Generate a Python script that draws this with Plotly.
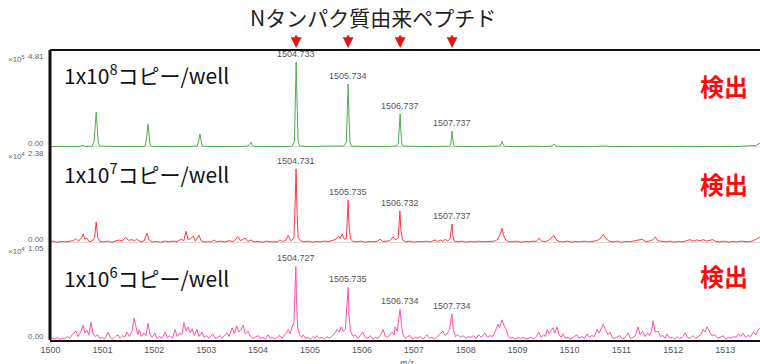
import plotly.graph_objects as go

# ---------------- data ----------------
x_ticks = [1500, 1501, 1502, 1503, 1504, 1505, 1506, 1507, 1508, 1509, 1510, 1511, 1512, 1513]
x_ticktext = [str(v) for v in x_ticks]

panel_titles = ["1x10<sup>8</sup>コピー/well", "1x10<sup>7</sup>コピー/well", "1x10<sup>6</sup>コピー/well"]
panel_max = [4.81, 2.38, 1.05]
panel_max_text = ["4.81", "2.38", "1.05"]
panel_zero_text = ["0.00", "0.00", "0.00"]
panel_exp = ["×10<sup>5</sup>", "×10<sup>4</sup>", "×10<sup>4</sup>"]

arrow_mz = [1504.733, 1505.734, 1506.737, 1507.737]

label1_mz = [1504.733, 1505.734, 1506.737, 1507.737]
label1_int = [4.30, 3.19, 1.67, 0.81]
label1_txt = ["1504.733", "1505.734", "1506.737", "1507.737"]
label2_mz = [1504.731, 1505.735, 1506.732, 1507.737]
label2_int = [1.96, 1.14, 0.85, 0.50]
label2_txt = ["1504.731", "1505.735", "1506.732", "1507.737"]
label3_mz = [1504.727, 1505.735, 1506.734, 1507.734]
label3_int = [0.84, 0.60, 0.35, 0.30]
label3_txt = ["1504.727", "1505.735", "1506.734", "1507.734"]

# spectrum 1 (x10^5)
green_pts = [
    (1499.99, 0.03), (1500.10, 0.02), (1500.25, 0.04), (1500.40, 0.02), (1500.55, 0.03), (1500.60, 0.06),
    (1500.63, 0.08), (1500.67, 0.03), (1500.80, 0.04), (1500.84, 0.30), (1500.86, 1.20), (1500.88, 1.77),
    (1500.90, 1.00), (1500.92, 0.20), (1500.95, 0.04), (1501.10, 0.03), (1501.25, 0.02), (1501.40, 0.04),
    (1501.55, 0.02), (1501.70, 0.03), (1501.82, 0.04), (1501.85, 0.40), (1501.87, 0.95), (1501.88, 1.16),
    (1501.90, 0.60), (1501.92, 0.10), (1501.95, 0.03), (1502.10, 0.02), (1502.25, 0.04), (1502.40, 0.02),
    (1502.55, 0.03), (1502.70, 0.02), (1502.82, 0.04), (1502.85, 0.25), (1502.87, 0.55), (1502.88, 0.66),
    (1502.90, 0.35), (1502.92, 0.06), (1502.95, 0.03), (1503.10, 0.02), (1503.25, 0.04), (1503.40, 0.03),
    (1503.55, 0.02), (1503.70, 0.03), (1503.80, 0.05), (1503.84, 0.15), (1503.86, 0.25), (1503.88, 0.12),
    (1503.92, 0.03), (1504.10, 0.02), (1504.25, 0.03), (1504.40, 0.02), (1504.55, 0.04), (1504.65, 0.03),
    (1504.70, 0.30), (1504.72, 2.80), (1504.733, 4.30), (1504.75, 2.20), (1504.77, 0.30), (1504.80, 0.05),
    (1504.95, 0.03), (1505.10, 0.02), (1505.25, 0.04), (1505.40, 0.03), (1505.55, 0.03), (1505.65, 0.05),
    (1505.70, 0.25), (1505.72, 2.10), (1505.734, 3.19), (1505.75, 1.60), (1505.77, 0.25), (1505.80, 0.04),
    (1505.95, 0.03), (1506.10, 0.02), (1506.25, 0.04), (1506.40, 0.02), (1506.55, 0.03), (1506.66, 0.05),
    (1506.70, 0.15), (1506.72, 1.10), (1506.737, 1.67), (1506.75, 0.80), (1506.77, 0.15), (1506.80, 0.04),
    (1506.95, 0.03), (1507.10, 0.02), (1507.25, 0.03), (1507.40, 0.02), (1507.55, 0.04), (1507.67, 0.03),
    (1507.71, 0.10), (1507.725, 0.55), (1507.737, 0.81), (1507.75, 0.40), (1507.77, 0.08), (1507.80, 0.03),
    (1507.95, 0.02), (1508.10, 0.04), (1508.25, 0.02), (1508.40, 0.03), (1508.55, 0.03), (1508.65, 0.05),
    (1508.69, 0.20), (1508.70, 0.30), (1508.72, 0.12), (1508.76, 0.03), (1508.90, 0.02), (1509.05, 0.03),
    (1509.20, 0.02), (1509.35, 0.04), (1509.50, 0.02), (1509.65, 0.04), (1509.70, 0.15), (1509.74, 0.04),
    (1509.90, 0.03), (1510.05, 0.02), (1510.20, 0.04), (1510.35, 0.02), (1510.50, 0.03), (1510.65, 0.05),
    (1510.80, 0.03), (1510.95, 0.02), (1511.10, 0.04), (1511.25, 0.02), (1511.40, 0.03), (1511.55, 0.04),
    (1511.70, 0.02), (1511.85, 0.03), (1512.00, 0.02), (1512.15, 0.04), (1512.30, 0.02), (1512.45, 0.03),
    (1512.60, 0.04), (1512.75, 0.03), (1512.90, 0.02), (1513.05, 0.04), (1513.20, 0.02), (1513.35, 0.03),
    (1513.50, 0.04), (1513.60, 0.08), (1513.67, 0.20),
]

# spectrum 2 (x10^4)
red_pts = [
    (1499.99, 0.03), (1500.05, 0.05), (1500.12, 0.02), (1500.20, 0.04), (1500.28, 0.03), (1500.36, 0.05),
    (1500.44, 0.06), (1500.49, 0.12), (1500.54, 0.05), (1500.60, 0.15), (1500.63, 0.24), (1500.66, 0.10),
    (1500.70, 0.13), (1500.74, 0.04), (1500.80, 0.05), (1500.85, 0.15), (1500.88, 0.56), (1500.91, 0.14),
    (1500.95, 0.04), (1501.02, 0.03), (1501.10, 0.05), (1501.18, 0.02), (1501.26, 0.06), (1501.32, 0.08),
    (1501.38, 0.05), (1501.45, 0.15), (1501.50, 0.07), (1501.56, 0.09), (1501.62, 0.06), (1501.66, 0.10),
    (1501.72, 0.04), (1501.80, 0.05), (1501.86, 0.26), (1501.90, 0.08), (1501.96, 0.03), (1502.04, 0.04),
    (1502.12, 0.02), (1502.20, 0.05), (1502.28, 0.03), (1502.36, 0.05), (1502.44, 0.04), (1502.52, 0.10),
    (1502.57, 0.06), (1502.61, 0.31), (1502.65, 0.09), (1502.70, 0.12), (1502.75, 0.18), (1502.79, 0.05),
    (1502.86, 0.21), (1502.90, 0.06), (1502.96, 0.03), (1503.04, 0.04), (1503.10, 0.03), (1503.15, 0.08),
    (1503.20, 0.03), (1503.28, 0.05), (1503.36, 0.03), (1503.44, 0.06), (1503.52, 0.04), (1503.57, 0.10),
    (1503.61, 0.17), (1503.66, 0.06), (1503.71, 0.09), (1503.75, 0.13), (1503.80, 0.04), (1503.86, 0.08),
    (1503.92, 0.03), (1504.00, 0.04), (1504.08, 0.02), (1504.16, 0.05), (1504.24, 0.03), (1504.32, 0.04),
    (1504.38, 0.03), (1504.42, 0.08), (1504.47, 0.04), (1504.53, 0.07), (1504.58, 0.20), (1504.63, 0.06),
    (1504.69, 0.12), (1504.71, 0.90), (1504.731, 1.96), (1504.75, 0.80), (1504.77, 0.15), (1504.82, 0.06),
    (1504.88, 0.03), (1504.96, 0.05), (1505.04, 0.02), (1505.12, 0.04), (1505.20, 0.03), (1505.28, 0.05),
    (1505.36, 0.04), (1505.44, 0.07), (1505.50, 0.10), (1505.55, 0.18), (1505.58, 0.12), (1505.62, 0.24),
    (1505.66, 0.10), (1505.70, 0.12), (1505.72, 0.60), (1505.735, 1.14), (1505.75, 0.50), (1505.78, 0.10),
    (1505.83, 0.04), (1505.90, 0.03), (1505.98, 0.05), (1506.06, 0.02), (1506.14, 0.04), (1506.22, 0.03),
    (1506.30, 0.05), (1506.35, 0.10), (1506.40, 0.04), (1506.48, 0.05), (1506.54, 0.06), (1506.60, 0.16),
    (1506.65, 0.08), (1506.70, 0.15), (1506.72, 0.50), (1506.732, 0.85), (1506.75, 0.35), (1506.78, 0.08),
    (1506.84, 0.03), (1506.92, 0.05), (1507.00, 0.02), (1507.08, 0.04), (1507.16, 0.03), (1507.24, 0.05),
    (1507.32, 0.03), (1507.41, 0.08), (1507.46, 0.04), (1507.52, 0.08), (1507.56, 0.04), (1507.60, 0.10),
    (1507.65, 0.05), (1507.70, 0.12), (1507.72, 0.35), (1507.737, 0.50), (1507.75, 0.22), (1507.78, 0.05),
    (1507.85, 0.03), (1507.93, 0.05), (1508.01, 0.02), (1508.09, 0.04), (1508.17, 0.03), (1508.25, 0.05),
    (1508.33, 0.03), (1508.41, 0.04), (1508.49, 0.06), (1508.56, 0.05), (1508.62, 0.10), (1508.66, 0.22),
    (1508.70, 0.39), (1508.73, 0.20), (1508.77, 0.08), (1508.82, 0.04), (1508.90, 0.03), (1508.98, 0.05),
    (1509.06, 0.02), (1509.14, 0.04), (1509.22, 0.03), (1509.30, 0.05), (1509.36, 0.04), (1509.41, 0.13),
    (1509.46, 0.05), (1509.54, 0.04), (1509.60, 0.08), (1509.66, 0.14), (1509.70, 0.20), (1509.74, 0.09),
    (1509.80, 0.04), (1509.88, 0.03), (1509.96, 0.05), (1510.04, 0.02), (1510.12, 0.04), (1510.20, 0.03),
    (1510.28, 0.05), (1510.36, 0.03), (1510.44, 0.04), (1510.52, 0.06), (1510.58, 0.10), (1510.65, 0.22),
    (1510.70, 0.12), (1510.76, 0.05), (1510.84, 0.03), (1510.92, 0.05), (1511.00, 0.02), (1511.08, 0.04),
    (1511.16, 0.03), (1511.24, 0.05), (1511.32, 0.06), (1511.40, 0.10), (1511.46, 0.04), (1511.54, 0.05),
    (1511.60, 0.08), (1511.65, 0.16), (1511.70, 0.06), (1511.78, 0.04), (1511.86, 0.03), (1511.94, 0.05),
    (1512.02, 0.02), (1512.10, 0.04), (1512.18, 0.03), (1512.26, 0.06), (1512.32, 0.09), (1512.38, 0.05),
    (1512.45, 0.08), (1512.52, 0.06), (1512.58, 0.09), (1512.64, 0.05), (1512.70, 0.08), (1512.76, 0.09),
    (1512.82, 0.04), (1512.90, 0.03), (1512.98, 0.05), (1513.06, 0.02), (1513.14, 0.04), (1513.22, 0.03),
    (1513.30, 0.05), (1513.38, 0.04), (1513.46, 0.03), (1513.54, 0.06), (1513.60, 0.10), (1513.67, 0.16),
]

# spectrum 3 (x10^4)
pink_pts = [
    (1499.99, 0.03), (1500.04, 0.02), (1500.08, 0.01), (1500.13, 0.03), (1500.17, 0.01), (1500.22, 0.02),
    (1500.27, 0.01), (1500.32, 0.04), (1500.37, 0.02), (1500.43, 0.07), (1500.49, 0.10), (1500.53, 0.04),
    (1500.58, 0.09), (1500.63, 0.17), (1500.66, 0.08), (1500.70, 0.11), (1500.74, 0.06), (1500.78, 0.20),
    (1500.82, 0.07), (1500.86, 0.04), (1500.91, 0.06), (1500.95, 0.02), (1501.00, 0.03), (1501.04, 0.01),
    (1501.08, 0.05), (1501.11, 0.09), (1501.15, 0.03), (1501.20, 0.01), (1501.25, 0.04), (1501.30, 0.06),
    (1501.34, 0.02), (1501.39, 0.05), (1501.43, 0.03), (1501.47, 0.09), (1501.52, 0.04), (1501.57, 0.10),
    (1501.61, 0.25), (1501.65, 0.12), (1501.68, 0.06), (1501.71, 0.12), (1501.75, 0.04), (1501.80, 0.08),
    (1501.84, 0.05), (1501.88, 0.19), (1501.92, 0.06), (1501.96, 0.03), (1502.01, 0.08), (1502.05, 0.02),
    (1502.10, 0.04), (1502.15, 0.02), (1502.21, 0.09), (1502.25, 0.03), (1502.30, 0.05), (1502.35, 0.02),
    (1502.40, 0.12), (1502.44, 0.04), (1502.49, 0.08), (1502.53, 0.06), (1502.57, 0.20), (1502.61, 0.10),
    (1502.65, 0.15), (1502.69, 0.08), (1502.73, 0.13), (1502.77, 0.05), (1502.82, 0.12), (1502.86, 0.04),
    (1502.92, 0.09), (1502.96, 0.03), (1503.01, 0.05), (1503.05, 0.02), (1503.09, 0.04), (1503.13, 0.07),
    (1503.17, 0.02), (1503.22, 0.03), (1503.27, 0.05), (1503.31, 0.02), (1503.36, 0.06), (1503.40, 0.08),
    (1503.44, 0.04), (1503.50, 0.14), (1503.54, 0.07), (1503.59, 0.16), (1503.63, 0.09), (1503.67, 0.12),
    (1503.71, 0.17), (1503.75, 0.07), (1503.81, 0.10), (1503.85, 0.04), (1503.90, 0.02), (1503.95, 0.04),
    (1504.00, 0.05), (1504.04, 0.02), (1504.09, 0.03), (1504.14, 0.01), (1504.19, 0.06), (1504.23, 0.02),
    (1504.28, 0.03), (1504.33, 0.01), (1504.38, 0.04), (1504.42, 0.05), (1504.46, 0.02), (1504.51, 0.06),
    (1504.55, 0.08), (1504.58, 0.12), (1504.62, 0.07), (1504.65, 0.14), (1504.69, 0.20), (1504.71, 0.55),
    (1504.727, 0.84), (1504.74, 0.45), (1504.76, 0.15), (1504.80, 0.06), (1504.84, 0.03), (1504.87, 0.06),
    (1504.91, 0.02), (1504.96, 0.03), (1505.01, 0.01), (1505.06, 0.04), (1505.10, 0.02), (1505.13, 0.05),
    (1505.18, 0.02), (1505.23, 0.03), (1505.28, 0.01), (1505.33, 0.04), (1505.38, 0.02), (1505.43, 0.05),
    (1505.48, 0.08), (1505.52, 0.12), (1505.56, 0.09), (1505.60, 0.15), (1505.64, 0.10), (1505.68, 0.12),
    (1505.71, 0.35), (1505.735, 0.60), (1505.75, 0.30), (1505.78, 0.10), (1505.83, 0.04), (1505.87, 0.06),
    (1505.92, 0.02), (1505.97, 0.05), (1506.02, 0.09), (1506.06, 0.03), (1506.11, 0.02), (1506.16, 0.05),
    (1506.21, 0.01), (1506.26, 0.03), (1506.31, 0.02), (1506.36, 0.06), (1506.41, 0.12), (1506.45, 0.04),
    (1506.50, 0.03), (1506.55, 0.07), (1506.58, 0.09), (1506.62, 0.06), (1506.64, 0.15), (1506.68, 0.10),
    (1506.71, 0.22), (1506.734, 0.35), (1506.76, 0.18), (1506.79, 0.06), (1506.84, 0.02), (1506.88, 0.04),
    (1506.93, 0.05), (1506.98, 0.01), (1507.03, 0.03), (1507.08, 0.02), (1507.13, 0.04), (1507.18, 0.01),
    (1507.25, 0.06), (1507.30, 0.02), (1507.35, 0.03), (1507.40, 0.01), (1507.45, 0.04), (1507.50, 0.07),
    (1507.56, 0.10), (1507.60, 0.05), (1507.65, 0.08), (1507.69, 0.12), (1507.71, 0.20), (1507.734, 0.30),
    (1507.76, 0.12), (1507.80, 0.04), (1507.85, 0.06), (1507.90, 0.03), (1507.95, 0.05), (1508.00, 0.02),
    (1508.05, 0.04), (1508.10, 0.03), (1508.15, 0.05), (1508.20, 0.02), (1508.25, 0.06), (1508.30, 0.03),
    (1508.37, 0.08), (1508.42, 0.03), (1508.47, 0.05), (1508.52, 0.04), (1508.57, 0.10), (1508.62, 0.18),
    (1508.65, 0.14), (1508.70, 0.23), (1508.74, 0.16), (1508.78, 0.12), (1508.82, 0.04), (1508.86, 0.02),
    (1508.91, 0.03), (1508.96, 0.01), (1509.01, 0.03), (1509.06, 0.02), (1509.11, 0.03), (1509.16, 0.01),
    (1509.21, 0.02), (1509.26, 0.03), (1509.31, 0.01), (1509.36, 0.04), (1509.41, 0.09), (1509.45, 0.03),
    (1509.50, 0.06), (1509.54, 0.04), (1509.57, 0.12), (1509.61, 0.07), (1509.65, 0.11), (1509.68, 0.14),
    (1509.72, 0.08), (1509.76, 0.15), (1509.80, 0.06), (1509.84, 0.03), (1509.87, 0.07), (1509.92, 0.02),
    (1509.97, 0.03), (1510.02, 0.01), (1510.07, 0.03), (1510.14, 0.06), (1510.18, 0.02), (1510.24, 0.04),
    (1510.29, 0.02), (1510.34, 0.07), (1510.38, 0.03), (1510.43, 0.05), (1510.48, 0.04), (1510.53, 0.12),
    (1510.57, 0.08), (1510.61, 0.14), (1510.65, 0.18), (1510.69, 0.12), (1510.74, 0.06), (1510.78, 0.09),
    (1510.82, 0.03), (1510.87, 0.02), (1510.92, 0.04), (1510.97, 0.05), (1511.02, 0.01), (1511.07, 0.03),
    (1511.13, 0.08), (1511.17, 0.02), (1511.22, 0.03), (1511.27, 0.05), (1511.32, 0.15), (1511.36, 0.06),
    (1511.41, 0.10), (1511.45, 0.04), (1511.50, 0.08), (1511.54, 0.05), (1511.58, 0.10), (1511.61, 0.22),
    (1511.65, 0.09), (1511.71, 0.10), (1511.75, 0.04), (1511.80, 0.05), (1511.84, 0.02), (1511.88, 0.07),
    (1511.93, 0.02), (1511.98, 0.03), (1512.03, 0.01), (1512.07, 0.04), (1512.12, 0.02), (1512.17, 0.03),
    (1512.23, 0.08), (1512.27, 0.03), (1512.32, 0.02), (1512.38, 0.05), (1512.43, 0.02), (1512.48, 0.04),
    (1512.53, 0.06), (1512.57, 0.12), (1512.61, 0.09), (1512.65, 0.15), (1512.69, 0.10), (1512.74, 0.05),
    (1512.80, 0.06), (1512.85, 0.02), (1512.90, 0.03), (1512.96, 0.05), (1513.01, 0.01), (1513.06, 0.03),
    (1513.11, 0.02), (1513.16, 0.04), (1513.21, 0.03), (1513.25, 0.07), (1513.30, 0.04), (1513.34, 0.08),
    (1513.39, 0.03), (1513.44, 0.05), (1513.49, 0.04), (1513.54, 0.09), (1513.59, 0.06), (1513.63, 0.11),
    (1513.67, 0.14),
]

green_mz = [p[0] for p in green_pts]
green_int = [p[1] for p in green_pts]
red_mz = [p[0] for p in red_pts]
red_int = [p[1] for p in red_pts]
pink_mz = [p[0] for p in pink_pts]
pink_int = [p[1] for p in pink_pts]

# ---------------- figure ----------------
L, R, T, B = 50, 0, 50, 24
W, H = 760, 364
PH = H - T - B  # 290

def py(pix):  # pixel y -> paper
    return (H - B - pix) / PH

def px(pix):  # pixel x -> paper
    return (pix - L) / (W - L - R)

colors = ["#4fae4f", "#ff3b3b", "#ff4fae"]
domains = [[py(147), 1.0], [py(243), py(150)], [0.0, py(245)]]
ranges = [[0, 4.81 * 97 / 95], [0, 2.38 * 93 / 90], [0, 1.05 * 95 / 92]]

fig = go.Figure()
for mzs, ints, c, ax in [(green_mz, green_int, colors[0], "y"),
                         (red_mz, red_int, colors[1], "y2"),
                         (pink_mz, pink_int, colors[2], "y3")]:
    fig.add_trace(go.Scatter(x=mzs, y=ints, mode="lines", line=dict(color=c, width=1),
                             xaxis="x", yaxis=ax, showlegend=False, hoverinfo="skip"))

layout = dict(
    width=W, height=H,
    margin=dict(l=L, r=R, t=T, b=B, pad=0, autoexpand=False),
    paper_bgcolor="white", plot_bgcolor="white",
    showlegend=False,
    xaxis=dict(domain=[0, 1], range=[1499.99, 1513.67], anchor="y3", automargin=False,
               tickvals=x_ticks, ticktext=x_ticktext, showgrid=False, zeroline=False,
               showline=True, linecolor="#111", linewidth=2, ticks="",
               tickfont=dict(family="Liberation Sans, Arial, sans-serif", size=9, color="#555")),
)
for i, name in enumerate(["yaxis", "yaxis2", "yaxis3"]):
    layout[name] = dict(domain=domains[i], range=ranges[i], anchor="x", automargin=False,
                        showgrid=False, zeroline=False, showline=False, ticks="",
                        showticklabels=False)
fig.update_layout(**layout)

shapes = []
for ax in ["y", "y2"]:
    shapes.append(dict(type="line", xref="paper", yref=ax, x0=0, x1=1, y0=0, y1=0,
                       line=dict(color="#b5b5b5", width=1), layer="below"))
shapes.append(dict(type="line", xref="paper", yref="paper", x0=0, x1=0, y0=0, y1=1,
                   line=dict(color="#111", width=3)))
shapes.append(dict(type="line", xref="paper", yref="paper", x0=0, x1=1, y0=1, y1=1,
                   line=dict(color="#111", width=2)))
fig.update_layout(shapes=shapes)

ann = []
jp = "Noto Sans CJK JP, sans-serif"
num = "Liberation Sans, Arial, sans-serif"
ann.append(dict(text="Nタンパク質由来ペプチド", x=px(373), y=py(17), xref="paper", yref="paper",
                showarrow=False, xanchor="center", yanchor="middle",
                font=dict(family=jp, size=21, color="#222")))
for m in arrow_mz:
    ann.append(dict(text="", x=m, y=py(48), xref="x", yref="paper", showarrow=True,
                    ax=0, ay=-14, arrowhead=2, arrowsize=0.9, arrowwidth=2.4, arrowcolor="#e8140f"))

title_y = [74, 173, 277]
det_y = [85, 183, 275]
exp_y = [59, 156, 251]
max_y = [56, 153, 248]
zero_y = [143, 239, 336]
for i in range(3):
    ann.append(dict(text=panel_titles[i], x=px(62), y=py(title_y[i]), xref="paper", yref="paper",
                    showarrow=False, xanchor="left", yanchor="middle",
                    font=dict(family=jp, size=21, color="#111")))
    ann.append(dict(text="<b>検出</b>", x=px(724), y=py(det_y[i]), xref="paper", yref="paper",
                    showarrow=False, xanchor="center", yanchor="middle",
                    font=dict(family=jp, size=24, color="#ff0a0a")))
    ann.append(dict(text=panel_exp[i], x=px(6), y=py(exp_y[i]), xref="paper", yref="paper",
                    showarrow=False, xanchor="left", yanchor="middle",
                    font=dict(family=num, size=8, color="#666")))
    ann.append(dict(text=panel_max_text[i], x=px(46), y=py(max_y[i]), xref="paper", yref="paper",
                    showarrow=False, xanchor="right", yanchor="middle",
                    font=dict(family=num, size=8, color="#666")))
    ann.append(dict(text=panel_zero_text[i], x=px(46), y=py(zero_y[i]), xref="paper", yref="paper",
                    showarrow=False, xanchor="right", yanchor="middle",
                    font=dict(family=num, size=8, color="#666")))

for mzs, ints, txts, ax in [(label1_mz, label1_int, label1_txt, "y"),
                            (label2_mz, label2_int, label2_txt, "y2"),
                            (label3_mz, label3_int, label3_txt, "y3")]:
    for m, v, t in zip(mzs, ints, txts):
        ann.append(dict(text=t, x=m, y=v, xref="x", yref=ax, showarrow=False,
                        xanchor="center", yanchor="bottom", yshift=1,
                        font=dict(family=num, size=9, color="#555")))
ann.append(dict(text="<i>m/z</i>", x=px(407), y=py(355), xref="paper", yref="paper",
                showarrow=False, xanchor="center", yanchor="top",
                font=dict(family="Liberation Serif, serif", size=10, color="#555")))
fig.update_layout(annotations=ann, hovermode=False)

fig.write_html("out.html", config={"displayModeBar": False},
               post_script="document.body.style.margin='0';document.body.style.overflow='hidden';")
